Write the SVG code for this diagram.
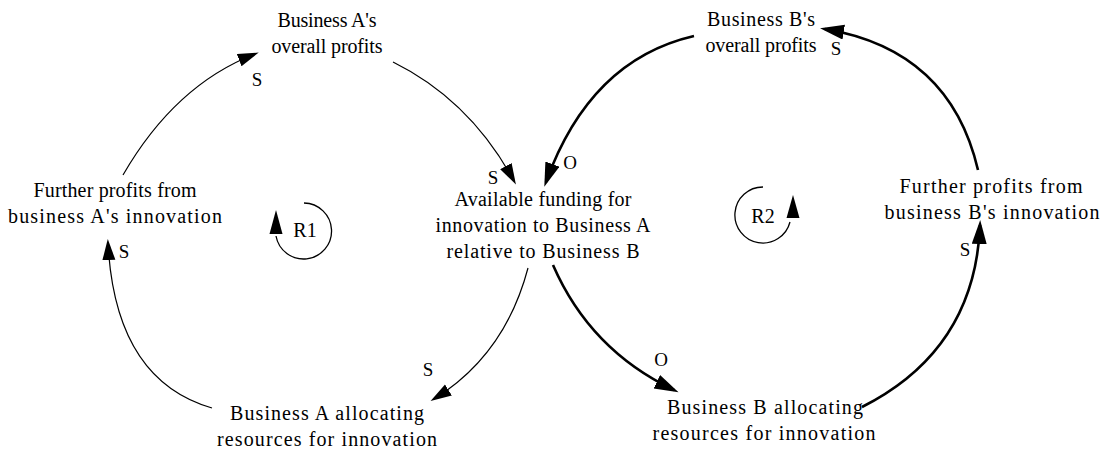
<svg xmlns="http://www.w3.org/2000/svg" width="1103" height="451" viewBox="0 0 1103 451">
<style>
.n{font-family:'Liberation Serif','DejaVu Serif',serif;font-size:20px;fill:#000;text-anchor:middle}
.p{font-family:'Liberation Serif','DejaVu Serif',serif;font-size:19px;fill:#000;text-anchor:middle}
.thin{fill:none;stroke:#000;stroke-width:1.2}
.thick{fill:none;stroke:#000;stroke-width:2.6}
.loop{fill:none;stroke:#000;stroke-width:1.3}
</style>
<defs>
<marker id="ah" markerUnits="userSpaceOnUse" markerWidth="22" markerHeight="14" refX="17" refY="6.5" orient="auto">
<path d="M0,0 L21,6.5 L0,13 z" fill="#000"/>
</marker>
<marker id="ahb" markerUnits="userSpaceOnUse" markerWidth="26" markerHeight="16" refX="19" refY="7.5" orient="auto">
<path d="M0,0 L24,7.5 L0,15 z" fill="#000"/>
</marker>
</defs>
<rect width="1103" height="451" fill="#fff"/>
<g id="connectors">
<path class="thin" d="M123,175 Q175,85 255,54" marker-end="url(#ah)"/>
<path class="thin" d="M393,62 Q470,100 514,181" marker-end="url(#ah)"/>
<path class="thin" d="M528,268 Q505,355 434,399" marker-end="url(#ah)"/>
<path class="thin" d="M212,408 Q115,380 108,243" marker-end="url(#ah)"/>
<path class="thick" d="M553,265 Q590,350 674,390" marker-end="url(#ahb)"/>
<path class="thick" d="M862,407 Q975,350 980,225" marker-end="url(#ahb)"/>
<path class="thick" d="M978,170 Q950,50 825,29" marker-end="url(#ahb)"/>
<path class="thick" d="M694,36 Q590,60 546,182" marker-end="url(#ahb)"/>
<text class="p" x="257" y="86">S</text>
<text class="p" x="493" y="184">S</text>
<text class="p" x="428" y="376">S</text>
<text class="p" x="124" y="258">S</text>
<text class="p" x="661" y="366">O</text>
<text class="p" x="965" y="256">S</text>
<text class="p" x="836" y="55">S</text>
<text class="p" x="570" y="169">O</text>
</g>
<g id="node-a-profits">
<text class="n" x="327" y="27" textLength="99" lengthAdjust="spacing">Business A's</text>
<text class="n" x="327" y="53" textLength="111" lengthAdjust="spacing">overall profits</text>
</g>
<g id="node-a-further">
<text class="n" x="115" y="197" textLength="163" lengthAdjust="spacing">Further profits from</text>
<text class="n" x="115" y="223" textLength="214" lengthAdjust="spacing">business A's innovation</text>
</g>
<g id="node-funding">
<text class="n" x="543" y="206" textLength="177" lengthAdjust="spacing">Available funding for</text>
<text class="n" x="543" y="232" textLength="215" lengthAdjust="spacing">innovation to Business A</text>
<text class="n" x="543" y="258" textLength="193" lengthAdjust="spacing">relative to Business B</text>
</g>
<g id="node-a-allocating">
<text class="n" x="327" y="420" textLength="194" lengthAdjust="spacing">Business A allocating</text>
<text class="n" x="327" y="446" textLength="220" lengthAdjust="spacing">resources for innovation</text>
</g>
<g id="node-b-profits">
<text class="n" x="761" y="26" textLength="108" lengthAdjust="spacing">Business B's</text>
<text class="n" x="761" y="52" textLength="111" lengthAdjust="spacing">overall profits</text>
</g>
<g id="node-b-further">
<text class="n" x="991" y="193" textLength="183" lengthAdjust="spacing">Further profits from</text>
<text class="n" x="992" y="219" textLength="215" lengthAdjust="spacing">business B's innovation</text>
</g>
<g id="node-b-allocating">
<text class="n" x="765" y="414" textLength="196" lengthAdjust="spacing">Business B allocating</text>
<text class="n" x="764" y="440" textLength="223" lengthAdjust="spacing">resources for innovation</text>
</g>
<g id="loop-r1">
<path class="loop" d="M304,203 A28,28 0 1 1 276,236"/>
<polygon points="276,210 269.5,234 282.5,234" fill="#000"/>
<text class="n" x="305" y="237">R1</text>
</g>
<g id="loop-r2">
<path class="loop" d="M763,187 A28,28 0 1 0 790,222"/>
<polygon points="793,195 786.5,218 799.5,218" fill="#000"/>
<text class="n" x="763" y="223">R2</text>
</g>
</svg>
